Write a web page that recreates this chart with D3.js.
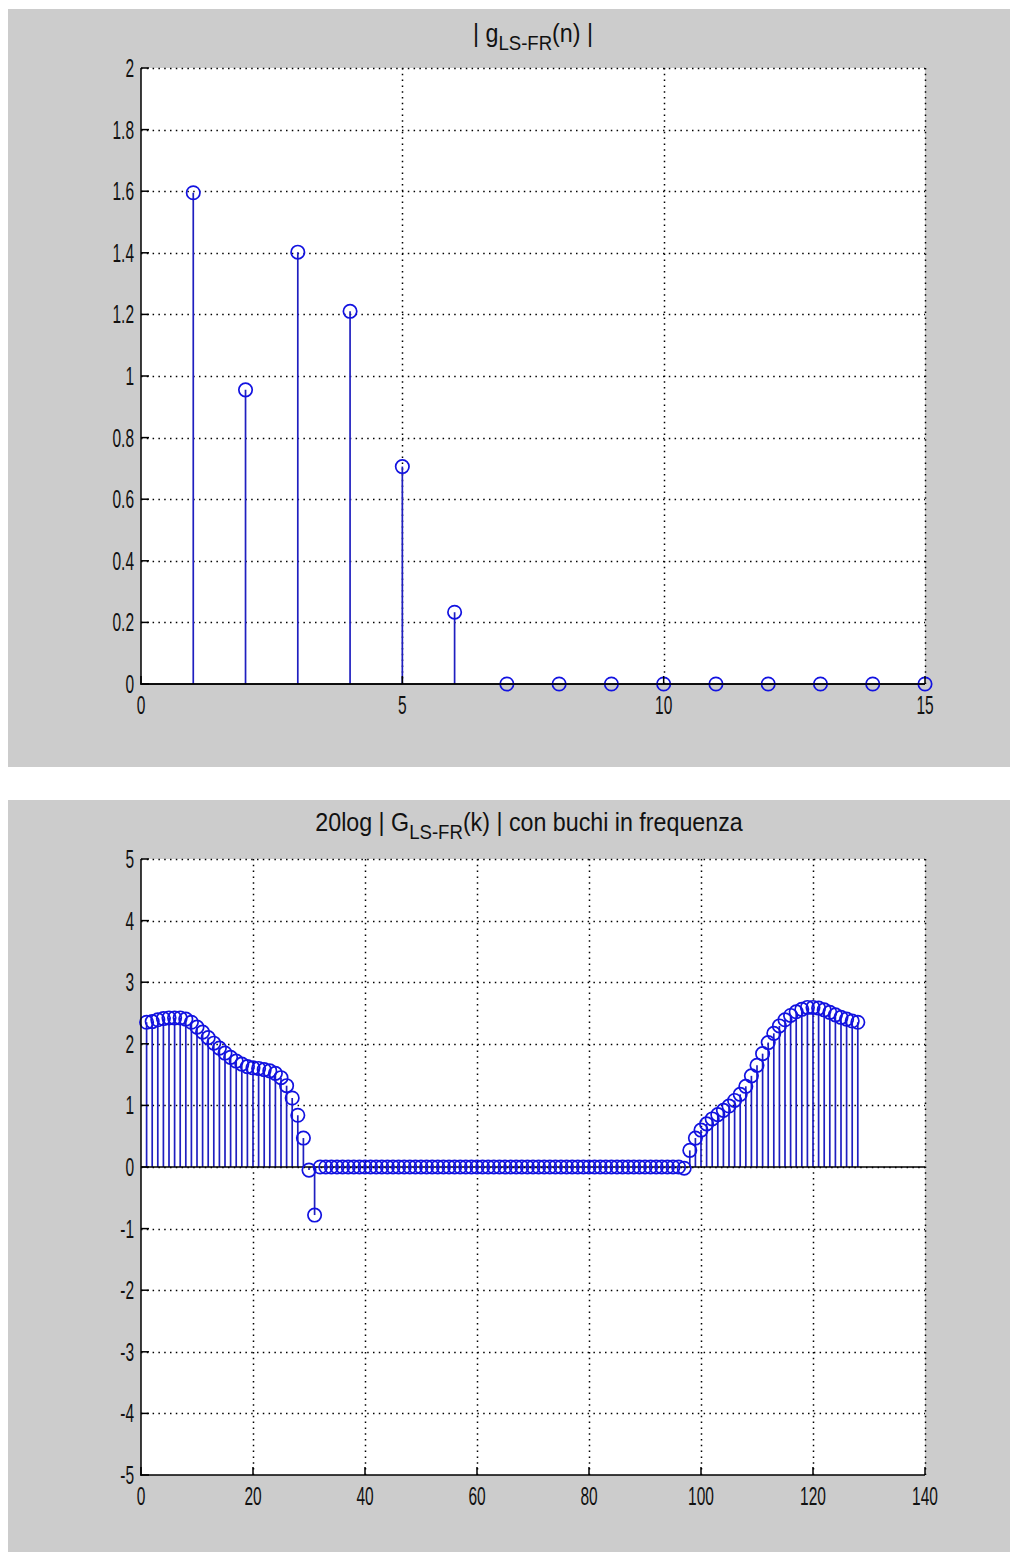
<!DOCTYPE html>
<html>
<head>
<meta charset="utf-8">
<script src="https://cdn.jsdelivr.net/npm/d3@7"></script>
<style>
  html, body { margin: 0; padding: 0; background: #ffffff; }
  svg { display: block; }
</style>
</head>
<body>
<div id="chart"></div>
<script>
// ---- data: impulse response magnitude |g(n)| ----
const nIndex = [1, 2, 3, 4, 5, 6, 7, 8, 9, 10, 11, 12, 13, 14, 15];
const gMag = [1.595, 0.955, 1.402, 1.210, 0.706, 0.233, 0, 0, 0, 0, 0, 0, 0, 0, 0];

// ---- data: 20log|G(k)| with frequency holes, k = 1..128 ----
const kIndex = [
  1, 2, 3, 4, 5, 6, 7, 8, 9, 10, 11, 12, 13, 14, 15, 16, 17, 18, 19, 20,
  21, 22, 23, 24, 25, 26, 27, 28, 29, 30, 31, 32, 33, 34, 35, 36, 37, 38, 39, 40,
  41, 42, 43, 44, 45, 46, 47, 48, 49, 50, 51, 52, 53, 54, 55, 56, 57, 58, 59, 60,
  61, 62, 63, 64, 65, 66, 67, 68, 69, 70, 71, 72, 73, 74, 75, 76, 77, 78, 79, 80,
  81, 82, 83, 84, 85, 86, 87, 88, 89, 90, 91, 92, 93, 94, 95, 96, 97, 98, 99, 100,
  101, 102, 103, 104, 105, 106, 107, 108, 109, 110, 111, 112, 113, 114, 115, 116, 117, 118, 119, 120,
  121, 122, 123, 124, 125, 126, 127, 128
];
const GdB = [
  2.35, 2.36, 2.39, 2.41, 2.42, 2.42, 2.42, 2.40, 2.35, 2.27,
  2.19, 2.10, 2.01, 1.93, 1.85, 1.78, 1.72, 1.67, 1.63, 1.61,
  1.60, 1.58, 1.56, 1.52, 1.45, 1.32, 1.12, 0.84, 0.47, -0.05,
  -0.78, 0, 0, 0, 0, 0, 0, 0, 0, 0,
  0, 0, 0, 0, 0, 0, 0, 0, 0, 0,
  0, 0, 0, 0, 0, 0, 0, 0, 0, 0,
  0, 0, 0, 0, 0, 0, 0, 0, 0, 0,
  0, 0, 0, 0, 0, 0, 0, 0, 0, 0,
  0, 0, 0, 0, 0, 0, 0, 0, 0, 0,
  0, 0, 0, 0, 0, 0, -0.02, 0.27, 0.47, 0.60,
  0.70, 0.78, 0.85, 0.92, 0.99, 1.08, 1.18, 1.31, 1.48, 1.65,
  1.84, 2.02, 2.17, 2.29, 2.39, 2.46, 2.52, 2.56, 2.59, 2.59,
  2.58, 2.55, 2.51, 2.47, 2.43, 2.40, 2.37, 2.35
];

// ---- tick values ----
const topXTicks = [0, 5, 10, 15];
const topYTicks = [0, 0.2, 0.4, 0.6, 0.8, 1, 1.2, 1.4, 1.6, 1.8, 2];
const botXTicks = [0, 20, 40, 60, 80, 100, 120, 140];
const botYTicks = [-5, -4, -3, -2, -1, 0, 1, 2, 3, 4, 5];

const W = 1010, H = 1552;
const STEM = "#1f1fc0";
const MARK = "#1212e0";
const FONT = "'Liberation Sans', Arial, sans-serif";

const svg = d3.select("#chart").append("svg")
  .attr("width", W).attr("height", H);

// condensed text helper (narrow bitmap-style lettering)
function label(g, x, y, text, anchor, size, sx) {
  return g.append("text")
    .attr("transform", `translate(${x},${y}) scale(${sx},1)`)
    .attr("text-anchor", anchor)
    .attr("font-family", FONT)
    .attr("font-size", size)
    .attr("fill", "#111")
    .text(text);
}

function titleWithSub(g, cx, y, pre, sub, post, size, sx) {
  const t = g.append("text")
    .attr("transform", `translate(${cx},${y}) scale(${sx},1)`)
    .attr("text-anchor", "middle")
    .attr("font-family", FONT)
    .attr("font-size", size)
    .attr("fill", "#111");
  t.append("tspan").text(pre);
  t.append("tspan").attr("font-size", size * 0.8).attr("dy", 8).text(sub);
  t.append("tspan").attr("dy", -8).text(post);
}

function panel(cfg) {
  const g = svg.append("g");
  g.append("rect")
    .attr("x", cfg.bg[0]).attr("y", cfg.bg[1])
    .attr("width", cfg.bg[2]).attr("height", cfg.bg[3])
    .attr("fill", "#cccccc");

  const x = d3.scaleLinear().domain(cfg.xDomain).range([cfg.left, cfg.right]);
  const y = d3.scaleLinear().domain(cfg.yDomain).range([cfg.bottom, cfg.top]);

  g.append("rect")
    .attr("x", cfg.left).attr("y", cfg.top)
    .attr("width", cfg.right - cfg.left).attr("height", cfg.bottom - cfg.top)
    .attr("fill", "#ffffff");

  // dotted grid
  const grid = g.append("g")
    .attr("stroke", "#000").attr("stroke-width", 1.5)
    .attr("stroke-dasharray", "1.5,4.3");
  grid.selectAll("line.gx").data(cfg.xTicks.filter(v => v !== cfg.xDomain[0]))
    .join("line")
    .attr("x1", d => Math.round(x(d)) + 0.5).attr("x2", d => Math.round(x(d)) + 0.5)
    .attr("y1", cfg.top).attr("y2", cfg.bottom);
  grid.selectAll("line.gy").data(cfg.yTicks.filter(v => v !== cfg.yDomain[0]))
    .join("line")
    .attr("x1", cfg.left).attr("x2", cfg.right)
    .attr("y1", d => Math.round(y(d)) + 0.5).attr("y2", d => Math.round(y(d)) + 0.5);

  // stems
  const pts = cfg.xs.map((v, i) => ({ x: v, y: cfg.ys[i] }));
  g.append("g").selectAll("line").data(pts).join("line")
    .attr("x1", d => x(d.x)).attr("x2", d => x(d.x))
    .attr("y1", y(0)).attr("y2", d => y(d.y))
    .attr("stroke", STEM).attr("stroke-width", 1.7);

  // baseline at zero
  g.append("line")
    .attr("x1", cfg.left).attr("x2", cfg.right)
    .attr("y1", y(0)).attr("y2", y(0))
    .attr("stroke", "#000").attr("stroke-width", 1.5);

  // markers
  g.append("g").selectAll("circle").data(pts).join("circle")
    .attr("cx", d => x(d.x)).attr("cy", d => y(d.y))
    .attr("r", 6.7)
    .attr("fill", "none").attr("stroke", MARK).attr("stroke-width", 1.7);

  // axes: left and bottom lines with inward ticks
  const ax = g.append("g").attr("stroke", "#000").attr("stroke-width", 1.5);
  ax.append("line").attr("x1", cfg.left).attr("x2", cfg.left)
    .attr("y1", cfg.top).attr("y2", cfg.bottom + 0.75);
  ax.append("line").attr("x1", cfg.left - 0.75).attr("x2", cfg.right)
    .attr("y1", cfg.bottom).attr("y2", cfg.bottom);
  ax.selectAll("line.tx").data(cfg.xTicks).join("line")
    .attr("x1", d => x(d)).attr("x2", d => x(d))
    .attr("y1", cfg.bottom).attr("y2", cfg.bottom - 8);
  ax.selectAll("line.ty").data(cfg.yTicks).join("line")
    .attr("x1", cfg.left).attr("x2", cfg.left + 8)
    .attr("y1", d => y(d)).attr("y2", d => y(d));

  // tick labels
  cfg.xTicks.forEach(v => label(g, x(v), cfg.bottom + 30, String(v), "middle", 25, 0.62));
  cfg.yTicks.forEach(v => label(g, cfg.left - 7, y(v) + 9, String(v), "end", 25, 0.62));

  titleWithSub(g, cfg.titleX, cfg.titleY, cfg.title[0], cfg.title[1], cfg.title[2], 25, 0.93);
}

panel({
  bg: [8, 9, 1002, 758],
  left: 141, right: 925, top: 68, bottom: 684,
  xDomain: [0, 15], yDomain: [0, 2],
  xTicks: topXTicks, yTicks: topYTicks,
  xs: nIndex, ys: gMag,
  title: ["| g", "LS-FR", "(n) |"], titleX: 533, titleY: 42
});

panel({
  bg: [8, 800, 1002, 752],
  left: 141, right: 925, top: 859, bottom: 1475,
  xDomain: [0, 140], yDomain: [-5, 5],
  xTicks: botXTicks, yTicks: botYTicks,
  xs: kIndex, ys: GdB,
  title: ["20log | G", "LS-FR", "(k) | con buchi in frequenza"], titleX: 529, titleY: 831
});
</script>
</body>
</html>
